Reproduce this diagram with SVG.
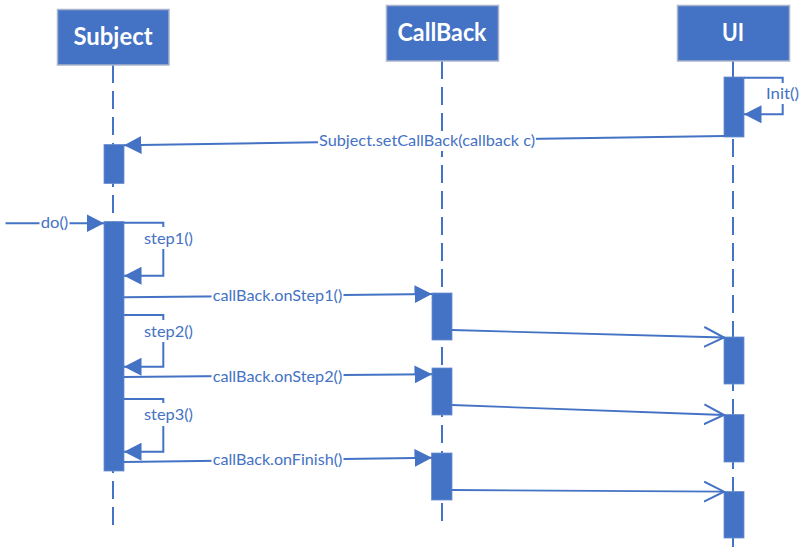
<svg xmlns="http://www.w3.org/2000/svg" width="807" height="555" viewBox="0 0 807 555">
<style>
.head{fill:#4472C4;stroke:#A9B4CC;stroke-width:1.5}
.htxt{font-family:Lato,"Liberation Sans",sans-serif;font-weight:bold;font-size:24px;fill:#FFFFFF;text-anchor:middle}
.life{stroke:#4472C4;stroke-width:2;stroke-dasharray:18 8;fill:none}
.act{fill:#4472C4;stroke:#6A8ED0;stroke-width:0.8}
.msg{stroke:#4472C4;stroke-width:2;fill:none}
.ret{stroke:#4472C4;stroke-width:1.8;fill:none}
.bg{fill:#FFFFFF}
.lbl{font-family:Lato,"Liberation Sans",sans-serif;font-size:15px;fill:#4472C4}
</style>
<defs>
<marker id="fa" markerWidth="18" markerHeight="18" refX="17.5" refY="9" orient="auto" markerUnits="userSpaceOnUse">
<path d="M0,0 L17.5,9 L0,18 Z" fill="#4472C4"/>
</marker>
<marker id="oa" markerWidth="24" markerHeight="24" refX="20" refY="11" orient="auto" markerUnits="userSpaceOnUse">
<path d="M0,1 L20,11 L0,21" fill="none" stroke="#4472C4" stroke-width="2"/>
</marker>
</defs>
<rect width="807" height="555" fill="#FFFFFF"/>

<g id="subject">
<line class="life" x1="113" y1="65" x2="113" y2="528"/>
<rect class="head" x="57.5" y="9.5" width="111.5" height="55.5"/>
<text class="htxt" x="113" y="45" textLength="79" lengthAdjust="spacingAndGlyphs">Subject</text>
<rect class="act" x="104" y="144.5" width="20" height="39"/>
<rect class="act" x="104" y="221.5" width="20" height="249.5"/>
</g>

<g id="callback">
<line class="life" x1="442" y1="61" x2="442" y2="523"/>
<rect class="head" x="386.5" y="5.5" width="112" height="55.5"/>
<text class="htxt" x="442" y="40.5" textLength="89" lengthAdjust="spacingAndGlyphs">CallBack</text>
<rect class="act" x="432" y="293" width="20" height="47"/>
<rect class="act" x="432" y="368" width="20" height="47"/>
<rect class="act" x="431.5" y="453" width="20.5" height="47"/>
</g>

<g id="ui">
<line class="life" x1="733" y1="61" x2="733" y2="549"/>
<rect class="head" x="677.5" y="5.5" width="112" height="55.5"/>
<text class="htxt" x="733" y="40.5" textLength="22" lengthAdjust="spacingAndGlyphs">UI</text>
<rect class="act" x="724" y="77" width="20" height="60"/>
<rect class="act" x="724" y="337" width="20" height="47"/>
<rect class="act" x="724" y="414.5" width="20" height="47.5"/>
<rect class="act" x="724" y="491.5" width="20" height="46.5"/>
</g>

<g id="connectors">
<!-- Init() self call -->
<path class="msg" d="M744,77.7 H782.7 V114.3 H744" marker-end="url(#fa)"/>
<rect class="bg" x="765" y="83" width="35" height="21"/>
<text class="lbl" x="766" y="98.7" textLength="33" lengthAdjust="spacingAndGlyphs">Init()</text>

<!-- setCallBack -->
<line class="msg" x1="724" y1="136" x2="124" y2="145.2" marker-end="url(#fa)"/>
<rect class="bg" x="318" y="131" width="218" height="20"/>
<text class="lbl" x="319" y="146" textLength="216" lengthAdjust="spacingAndGlyphs">Subject.setCallBack(callback c)</text>

<!-- do() -->
<line class="msg" x1="5.5" y1="223.3" x2="104" y2="223.3" marker-end="url(#fa)"/>
<rect class="bg" x="39.5" y="213" width="30" height="20"/>
<text class="lbl" x="40.7" y="228.3" textLength="27.6" lengthAdjust="spacingAndGlyphs">do()</text>

<!-- step1 -->
<path class="msg" d="M124,222.7 H163.3 V275.8 H124" marker-end="url(#fa)"/>
<rect class="bg" x="143" y="227" width="51" height="22"/>
<text class="lbl" x="144" y="244.3" textLength="49" lengthAdjust="spacingAndGlyphs">step1()</text>

<!-- onStep1 -->
<line class="msg" x1="124" y1="297.3" x2="432" y2="294" marker-end="url(#fa)"/>
<rect class="bg" x="211.5" y="286" width="132" height="20"/>
<text class="lbl" x="212.7" y="300.7" textLength="129.6" lengthAdjust="spacingAndGlyphs">callBack.onStep1()</text>
<line class="ret" x1="452" y1="330" x2="724" y2="337.5" marker-end="url(#oa)"/>

<!-- step2 -->
<path class="msg" d="M124,315 H163.3 V366.7 H124" marker-end="url(#fa)"/>
<rect class="bg" x="143" y="320" width="51" height="22"/>
<text class="lbl" x="144" y="336.7" textLength="49" lengthAdjust="spacingAndGlyphs">step2()</text>

<!-- onStep2 -->
<line class="msg" x1="124" y1="377" x2="432" y2="374.3" marker-end="url(#fa)"/>
<rect class="bg" x="211.5" y="366" width="132" height="20"/>
<text class="lbl" x="212.7" y="381.7" textLength="129.6" lengthAdjust="spacingAndGlyphs">callBack.onStep2()</text>
<line class="ret" x1="452" y1="405" x2="724" y2="415" marker-end="url(#oa)"/>

<!-- step3 -->
<path class="msg" d="M124,399 H163.3 V451.7 H124" marker-end="url(#fa)"/>
<rect class="bg" x="143" y="403" width="51" height="23"/>
<text class="lbl" x="144" y="420" textLength="49" lengthAdjust="spacingAndGlyphs">step3()</text>

<!-- onFinish -->
<line class="msg" x1="124" y1="462" x2="432" y2="457.7" marker-end="url(#fa)"/>
<rect class="bg" x="211.5" y="450" width="132" height="20"/>
<text class="lbl" x="212.7" y="465" textLength="129.6" lengthAdjust="spacingAndGlyphs">callBack.onFinish()</text>
<line class="ret" x1="452" y1="490" x2="724" y2="491.7" marker-end="url(#oa)"/>
</g>
</svg>
